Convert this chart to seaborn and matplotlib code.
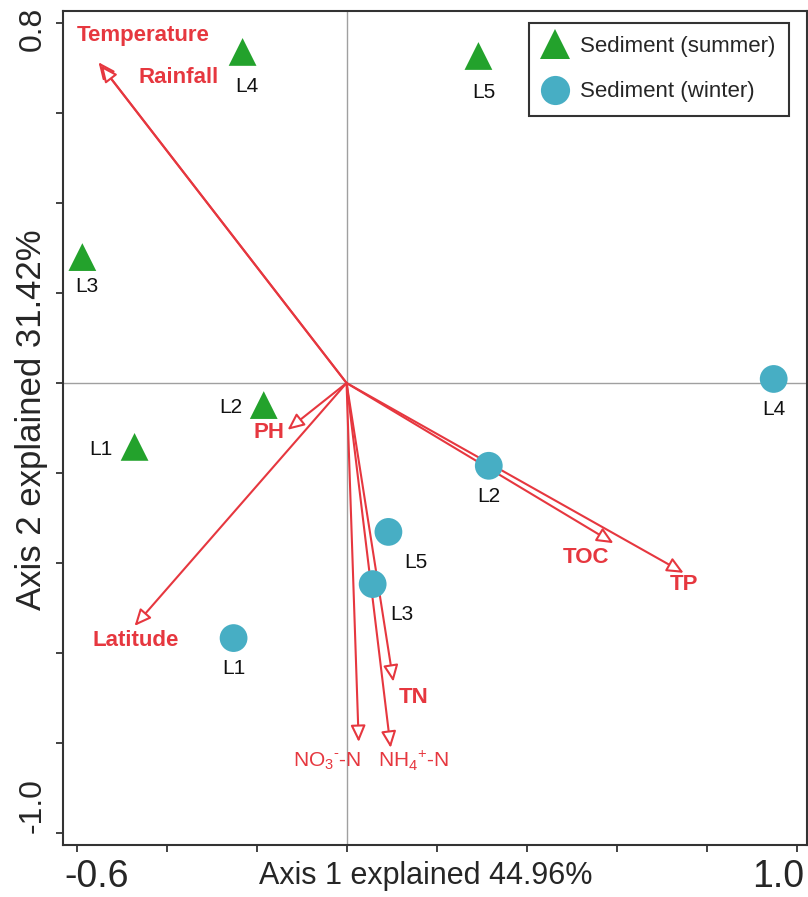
import numpy as np
import pandas as pd
import matplotlib
matplotlib.use("Agg")
import matplotlib.pyplot as plt
import seaborn as sns
from matplotlib.transforms import ScaledTranslation

# ------------------------------------------------------------------
# Data
# ------------------------------------------------------------------

sites = ["L1", "L2", "L3", "L4", "L5"]

summer_x = [-0.471, -0.184, -0.587, -0.231, 0.293]
summer_y = [-0.142, -0.049, 0.280, 0.736, 0.727]

winter_x = [-0.251, 0.316, 0.058, 0.949, 0.093]
winter_y = [-0.567, -0.184, -0.447, 0.009, -0.331]

env_names = ["Temperature", "Rainfall", "PH", "Latitude", "TOC", "TP",
             "TN", r"NO$_3$$^{\text{-}}$-N", r"NH$_4$$^{+}$-N"]
env_x = [-0.551, -0.546, -0.131, -0.471, 0.593, 0.749, 0.104, 0.027, 0.098]
env_y = [0.713, 0.706, -0.104, -0.540, -0.356, -0.422, -0.664, -0.798, -0.811]
env_bold = [True, True, True, True, True, True, True, False, False]

# label placement (text only)
env_label_x = [-0.451, -0.373, -0.173, -0.469, 0.533, 0.749, 0.149, -0.044, 0.149]
env_label_y = [0.773, 0.680, -0.109, -0.573, -0.387, -0.449, -0.700, -0.840, -0.840]
summer_offsets = [(-24, -2), (-24, -2), (3, -21), (3, -25), (4, -26)]
winter_offsets = [(0, -22), (0, -22), (21, -22), (0, -22), (20, -22)]

x_ticks = [-0.6, -0.4, -0.2, 0.0, 0.2, 0.4, 0.6, 0.8, 1.0]
x_ticklabels = ["-0.6", "", "", "", "", "", "", "", "1.0"]
y_ticks = [-1.0, -0.8, -0.6, -0.4, -0.2, 0.0, 0.2, 0.4, 0.6, 0.8]
y_ticklabels = ["-1.0", "", "", "", "", "", "", "", "", "0.8"]

RED = "#E6373F"
GREEN = "#23A22C"
BLUE = "#47AEC4"

df = pd.DataFrame({
    "x": summer_x + winter_x,
    "y": summer_y + winter_y,
    "site": sites + sites,
    "season": ["Sediment (summer)"] * 5 + ["Sediment (winter)"] * 5,
})

# ------------------------------------------------------------------
# Plot
# ------------------------------------------------------------------

sns.set_style("white")
plt.rcParams["font.family"] = ["Liberation Sans", "DejaVu Sans"]
plt.rcParams["mathtext.fontset"] = "custom"
plt.rcParams["mathtext.rm"] = "Liberation Sans"

fig = plt.figure(figsize=(8.08, 8.97), dpi=100)
ax = fig.add_axes([63 / 808, 52 / 897, 744 / 808, 834 / 897])

ax.axhline(0, color="#a0a0a0", lw=1.0, zorder=1)
ax.axvline(0, color="#a0a0a0", lw=1.0, zorder=1)

# environmental arrows
for name, ex, ey, lx, ly, bold in zip(env_names, env_x, env_y,
                                      env_label_x, env_label_y, env_bold):
    ax.annotate(
        "",
        xy=(ex, ey),
        xytext=(0, 0),
        arrowprops=dict(
            arrowstyle="-|>,head_length=1.0,head_width=0.45",
            fc="white",
            ec=RED,
            lw=1.5,
            shrinkA=0,
            shrinkB=0,
            mutation_scale=10,
        ),
        zorder=2,
    )
    ax.text(lx, ly, name, color=RED, ha="center", va="center",
            fontsize=16 if bold else 15,
            fontweight="bold" if bold else "normal", zorder=4)

sns.scatterplot(
    data=df,
    x="x",
    y="y",
    hue="season",
    style="season",
    markers={"Sediment (summer)": "^", "Sediment (winter)": "o"},
    palette={"Sediment (summer)": GREEN, "Sediment (winter)": BLUE},
    s=400,
    edgecolor="none",
    linewidth=0,
    ax=ax,
    zorder=3,
)

for site, sx, sy, off in zip(sites, summer_x, summer_y, summer_offsets):
    ax.annotate(site, (sx, sy), xytext=off, textcoords="offset points",
                ha="center", va="center", fontsize=15, color="#111111")
for site, wx, wy, off in zip(sites, winter_x, winter_y, winter_offsets):
    ax.annotate(site, (wx, wy), xytext=off, textcoords="offset points",
                ha="center", va="center", fontsize=15, color="#111111")

ax.set_xlim(-0.63, 1.023)
ax.set_ylim(-1.027, 0.827)

ax.set_xticks(x_ticks)
ax.set_xticklabels(x_ticklabels, fontsize=27)
ax.set_yticks(y_ticks)
ax.set_yticklabels(y_ticklabels, fontsize=23, rotation=90, va="center")
ax.tick_params(axis="both", direction="out", length=5, width=1.2,
               color="#222222", bottom=True, left=True)
ax.tick_params(axis="x", pad=5)
ax.tick_params(axis="y", pad=6)

# nudge the end labels inward like the reference
for lab, dx in zip(ax.get_xticklabels(), [20, 0, 0, 0, 0, 0, 0, 0, -18]):
    lab.set_transform(lab.get_transform() +
                      ScaledTranslation(dx / 100, 0, fig.dpi_scale_trans))
for lab, dy in zip(ax.get_yticklabels(), [27, 0, 0, 0, 0, 0, 0, 0, 0, -6]):
    lab.set_transform(lab.get_transform() +
                      ScaledTranslation(0, dy / 100, fig.dpi_scale_trans))

ax.set_xlabel("Axis 1 explained 44.96%", fontsize=22)
ax.set_ylabel("Axis 2 explained 31.42%", fontsize=25)
ax.xaxis.set_label_coords(0.487, -0.037)
ax.yaxis.set_label_coords(-0.042, 0.51)
ax.xaxis.label.set_va("center")
ax.yaxis.label.set_va("center")

for side in ["left", "bottom", "top", "right"]:
    ax.spines[side].set_color("#333333")
    ax.spines[side].set_linewidth(1.5)

leg = ax.legend(
    loc="upper right",
    bbox_to_anchor=(0.976, 0.986),
    borderaxespad=0,
    fontsize=16,
    frameon=True,
    fancybox=False,
    edgecolor="#333333",
    framealpha=1,
    handlelength=1.1,
    handletextpad=0.6,
    labelspacing=1.1,
    borderpad=0.6,
    title=None,
)
leg.get_frame().set_linewidth(1.5)
for h in leg.legend_handles:
    h.set_markersize(21)

fig.savefig("out.png", dpi=100)
